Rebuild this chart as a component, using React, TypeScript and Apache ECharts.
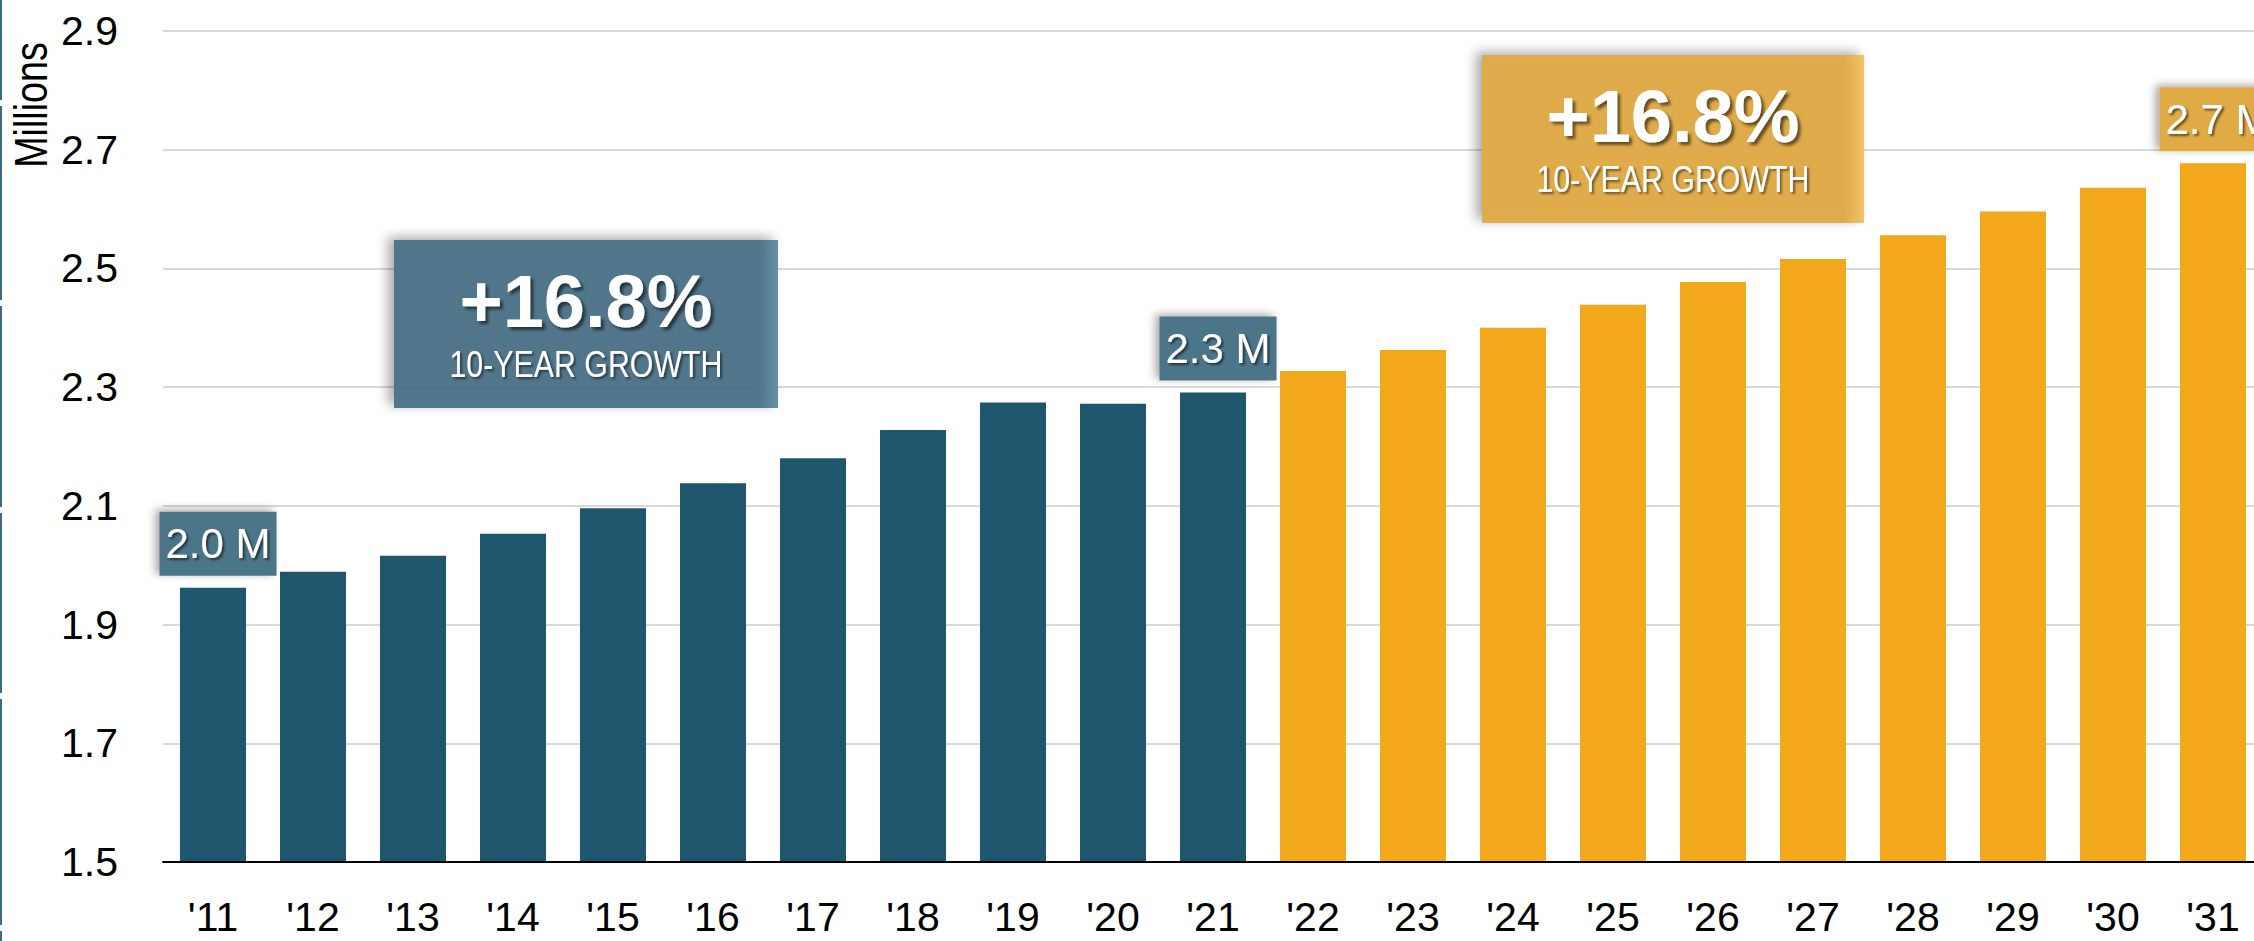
import React, { useEffect, useRef } from "react";
import * as echarts from "echarts";

const years = ["'11", "'12", "'13", "'14", "'15", "'16", "'17", "'18", "'19", "'20", "'21", "'22", "'23", "'24", "'25", "'26", "'27", "'28", "'29", "'30", "'31"];
const actualValues = [1.962, 1.989, 2.016, 2.053, 2.096, 2.138, 2.18, 2.228, 2.274, 2.272, 2.291];
const projectedValues = [2.327, 2.3625, 2.4, 2.439, 2.477, 2.516, 2.556, 2.596, 2.636, 2.677];
const yTicks = [1.5, 1.7, 1.9, 2.1, 2.3, 2.5, 2.7, 2.9];
const labelledYears = ["'11", "'21", "'31"];
const growthText = "+16.8%";
const growthSub = "10-YEAR GROWTH";

const SANS = '"Liberation Sans", Arial, sans-serif';
const BLUE = "#1e566e";
const ORANGE = "#f3a81c";
const BLUE_BOX = "#4b7488";
const ORANGE_BOX = "#e0aa45";

function makeLabel(bg: string) {
  return {
    show: true,
    position: "top",
    distance: 12,
    offset: [5, 0],
    formatter: (p: any) => Number(p.value).toFixed(1) + " M",
    color: "#ffffff",
    fontFamily: SANS,
    fontSize: 42,
    lineHeight: 46,
    padding: [9, 6, 9, 6],
    backgroundColor: bg,
    shadowColor: "rgba(0,0,0,0.35)",
    shadowBlur: 8,
    shadowOffsetX: -4,
    shadowOffsetY: -2,
    textShadowColor: "rgba(0,0,0,0.55)",
    textShadowBlur: 2,
    textShadowOffsetX: 2,
    textShadowOffsetY: 2,
  };
}

function growthBox(x: number, y: number, w: number, h: number, base: string, light: string) {
  return {
    type: "group",
    children: [
      {
        type: "rect",
        shape: { x, y, width: w, height: h },
        style: {
          fill: new echarts.graphic.LinearGradient(0, 0, 1, 0, [
            { offset: 0, color: base },
            { offset: 0.95, color: base },
            { offset: 1, color: light },
          ]),
          opacity: 0.95,
          shadowColor: "rgba(0,0,0,0.35)",
          shadowBlur: 12,
          shadowOffsetX: -6,
          shadowOffsetY: -3,
        },
        z: 10,
      },
      {
        type: "text",
        x: x + w / 2,
        y: y + 61,
        style: {
          text: growthText,
          fill: "#ffffff",
          font: `bold 74px ${SANS}`,
          textAlign: "center",
          textVerticalAlign: "middle",
          textShadowColor: "rgba(0,0,0,0.55)",
          textShadowBlur: 3,
          textShadowOffsetX: 3,
          textShadowOffsetY: 3,
        } as any,
        z: 11,
      },
      {
        type: "text",
        x: x + w / 2,
        y: y + 124,
        scaleX: 0.82,
        style: {
          text: growthSub,
          fill: "#ffffff",
          font: `37px ${SANS}`,
          textAlign: "center",
          textVerticalAlign: "middle",
          textShadowColor: "rgba(0,0,0,0.5)",
          textShadowBlur: 2,
          textShadowOffsetX: 2,
          textShadowOffsetY: 2,
        } as any,
        z: 11,
      },
    ],
  };
}

export default function App() {
  const ref = useRef<HTMLDivElement>(null);
  useEffect(() => {
    if (!ref.current) return;
    const chart = echarts.init(ref.current, null, { renderer: "svg" });
    const nA = actualValues.length;
    const actualData = years.map((yr, i) =>
      i < nA
        ? { value: actualValues[i], label: labelledYears.includes(yr) ? makeLabel(BLUE_BOX) : { show: false } }
        : "-"
    );
    const projData = years.map((yr, i) =>
      i >= nA
        ? { value: projectedValues[i - nA], label: labelledYears.includes(yr) ? makeLabel(ORANGE_BOX) : { show: false } }
        : "-"
    );
    const edgeSegments = [
      [0, 100], [106, 300], [306, 507], [513, 693], [699, 925], [931, 941],
    ];
    chart.setOption({
      animation: false,
      backgroundColor: "#ffffff",
      grid: { left: 163, top: 31, width: 2100, height: 831, containLabel: false, outerBoundsMode: "none" } as any,
      xAxis: {
        type: "category",
        data: years,
        axisLine: { show: true, lineStyle: { color: "#000000", width: 2 } },
        axisTick: { show: false },
        axisLabel: { color: "#000000", fontFamily: SANS, fontSize: 41, margin: 34, interval: 0 },
        splitLine: { show: false },
        z: 5,
      },
      yAxis: {
        type: "value",
        min: 1.5,
        max: 2.9,
        axisLine: { show: false },
        axisTick: { show: false, customValues: yTicks },
        axisLabel: {
          customValues: yTicks,
          formatter: (v: number) => v.toFixed(1),
          color: "#000000",
          fontFamily: SANS,
          fontSize: 41,
          margin: 45,
        },
        splitLine: { show: true, lineStyle: { color: "#d9d9d9", width: 2 } },
      } as any,
      series: [
        {
          name: "Actual",
          type: "bar",
          data: actualData,
          barWidth: 66,
          barGap: "-100%",
          itemStyle: { color: BLUE },
          z: 3,
        },
        {
          name: "Projected",
          type: "bar",
          data: projData,
          barWidth: 66,
          barGap: "-100%",
          itemStyle: { color: ORANGE },
          z: 3,
        },
      ],
      graphic: [
        {
          type: "text",
          x: 31,
          y: 105,
          rotation: Math.PI / 2,
          scaleX: 0.82,
          style: {
            text: "Millions",
            fill: "#000000",
            font: `46px ${SANS}`,
            textAlign: "center",
            textVerticalAlign: "middle",
          } as any,
        },
        ...edgeSegments.map(([a, b]) => ({
          type: "rect",
          shape: { x: 0, y: a, width: 2, height: b - a },
          style: { fill: "#3f6b82" },
        })),
        growthBox(394, 240, 384, 168, "#4b7388", "#5f8b9f"),
        growthBox(1482, 55, 382, 168, "#e0a944", "#f2c262"),
      ],
    });
    return () => chart.dispose();
  }, []);
  return (
    <div
      ref={ref}
      style={{ position: "fixed", left: 0, top: 0, width: 2254, height: 941 }}
    />
  );
}
